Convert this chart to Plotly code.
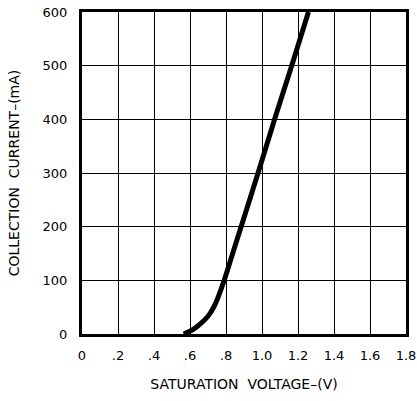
import plotly.graph_objects as go

# Data
voltage = [0.565, 0.60, 0.64, 0.70, 0.735, 0.758, 0.79, 0.837, 0.884, 0.978, 1.07, 1.165, 1.258]
current = [0, 5, 14, 33, 52, 70, 100, 150, 200, 300, 400, 500, 600]

x_tick_vals = [0, 0.2, 0.4, 0.6, 0.8, 1.0, 1.2, 1.4, 1.6, 1.8]
x_tick_text = ["0", ".2", ".4", ".6", ".8", "1.0", "1.2", "1.4", "1.6", "1.8"]
y_tick_vals = [0, 100, 200, 300, 400, 500, 600]
y_tick_text = ["0", "100", "200", "300", "400", "500", "600"]

FONT = "DejaVu Sans"

fig = go.Figure()
fig.add_trace(go.Scatter(
    x=voltage, y=current, mode="lines",
    line=dict(color="black", width=5, shape="spline", smoothing=0.8),
    showlegend=False, hoverinfo="skip", cliponaxis=True,
))

axis_common = dict(
    showline=True, linecolor="black", linewidth=3, mirror=True,
    showgrid=True, gridcolor="black", gridwidth=1,
    zeroline=False, ticks="", automargin=False,
    tickfont=dict(family=FONT, size=13, color="black"),
)

fig.update_xaxes(
    range=[0, 1.8], tickvals=x_tick_vals, ticktext=x_tick_text,
    ticklabelstandoff=7,
    title=dict(text="SATURATION\u00a0\u00a0VOLTAGE–(V)", font=dict(family=FONT, size=14, color="black"), standoff=18),
    **axis_common,
)
fig.update_yaxes(
    range=[0, 600], tickvals=y_tick_vals, ticktext=y_tick_text,
    ticklabelstandoff=9,
    title=dict(text="COLLECTION\u00a0\u00a0CURRENT–(mA)", font=dict(family=FONT, size=14, color="black"), standoff=20),
    **axis_common,
)

fig.update_layout(
    width=417, height=401,
    margin=dict(l=82, r=11, t=12, b=67),
    paper_bgcolor="white", plot_bgcolor="white",
    font=dict(family=FONT, size=13, color="black"),
)

fig.write_html(
    "out.html",
    config={"displayModeBar": False, "staticPlot": True},
    post_script="document.body.style.margin='0';document.body.style.overflow='hidden';",
)
